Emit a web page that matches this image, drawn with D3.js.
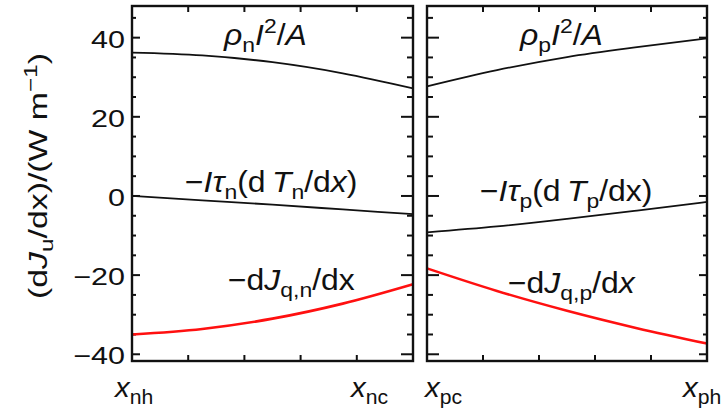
<html>
<head></head>
<body style="margin:0;background:white">
<svg id="svg" width="724" height="412"></svg>
<script src="https://cdn.jsdelivr.net/npm/d3@7"></script>
<script>

// positions along each leg, 0 = left end of the panel, 1 = right end
var xPos = [0, 0.25, 0.5, 0.75, 1];

// n leg (x_nh -> x_nc)
var rhoN = [36.2, 35.5, 33.8, 31.0, 27.2];
var tauN = [0, -1.1, -2.2, -3.4, -4.6];
var jqN  = [-35.0, -33.6, -31.0, -27.2, -22.3];

// p leg (x_pc -> x_ph)
var rhoP = [27.7, 31.8, 35.1, 37.6, 39.8];
var tauP = [-9.2, -7.7, -5.8, -3.7, -1.5];
var jqP  = [-18.3, -24.0, -29.0, -33.4, -37.3];

var yMajor = [-40, -20, 0, 20, 40];
var yMinor = d3.range(-40, 46, 5);
var xTicks = [0.2, 0.4, 0.6, 0.8];

var svg = d3.select("#svg");
var font = "Liberation Sans, Arial, sans-serif";
var ink = "#111";

var yTop = 6, yBot = 361;
var y = d3.scaleLinear().domain([-41.7, 48]).range([yBot, yTop]);

var panels = [
  {x0: 132, x1: 413, series: [rhoN, tauN, jqN], left: "nh", right: "nc"},
  {x0: 427, x1: 707, series: [rhoP, tauP, jqP], left: "pc", right: "ph"}
];

// text helper: parts = [{t, i, sub, sup}], stretched a bit wider like the original figure
function rich(x, yy, size, sx, anchor, parts, rot) {
  var tr = "translate(" + x + "," + yy + ")" + (rot ? " rotate(-90)" : "") + " scale(" + sx + ",1)";
  var t = svg.append("text").attr("transform", tr)
    .attr("font-family", font).attr("font-size", size).attr("fill", ink)
    .attr("text-anchor", anchor);
  var shift = 0;
  parts.forEach(function(pp) {
    var s = t.append("tspan").text(pp.t);
    if (pp.i) s.attr("font-style", "italic");
    var want = pp.sub ? size * 0.24 : pp.sup ? -size * 0.4 : 0;
    if (pp.sub || pp.sup) s.attr("font-size", size * 0.72);
    if (want != shift) s.attr("dy", want - shift);
    shift = want;
  });
  return t;
}

panels.forEach(function(p, i) {
  var x = d3.scaleLinear().domain([0, 1]).range([p.x0, p.x1]);
  var g = svg.append("g");

  // y ticks on both sides, longer ones next to the gap
  [[p.x0, 1], [p.x1, -1]].forEach(function(side) {
    var inner = (i == 0 && side[1] < 0) || (i == 1 && side[1] > 0);
    var lenMaj = inner ? 12 : 8, lenMin = inner ? 6 : 4;
    g.selectAll(null).data(yMinor).join("line")
      .attr("x1", side[0]).attr("x2", d => side[0] + side[1] * (d % 20 == 0 ? lenMaj : lenMin))
      .attr("y1", d => y(d)).attr("y2", d => y(d))
      .attr("stroke", ink).attr("stroke-width", 2);
  });

  // x ticks top and bottom
  [[yTop, 1], [yBot, -1]].forEach(function(side) {
    g.selectAll(null).data(xTicks).join("line")
      .attr("x1", d => x(d)).attr("x2", d => x(d))
      .attr("y1", side[0]).attr("y2", side[0] + side[1] * 6)
      .attr("stroke", ink).attr("stroke-width", 2);
  });

  var line = d3.line().x((d, k) => x(xPos[k])).y(d => y(d)).curve(d3.curveMonotoneX);
  p.series.forEach(function(s, k) {
    g.append("path").datum(s).attr("d", line)
      .attr("fill", "none")
      .attr("stroke", k == 2 ? "#ff1010" : ink)
      .attr("stroke-width", k == 2 ? 2.6 : 1.8);
  });

  g.append("rect").attr("x", p.x0).attr("y", yTop)
    .attr("width", p.x1 - p.x0).attr("height", yBot - yTop)
    .attr("fill", "none").attr("stroke", ink).attr("stroke-width", 2.4);

  // x end labels
  var lx = i == 0 ? [x(0) - 17, x(1) - 62] : [x(0) - 2, x(1) - 24];
  rich(lx[0], 397, 28, 1.05, "start", [{t: "x", i: 1}, {t: p.left, sub: 1}]);
  rich(lx[1], 397, 28, 1.05, "start", [{t: "x", i: 1}, {t: p.right, sub: 1}]);
});

// y tick labels
yMajor.forEach(function(v) {
  rich(125, y(v) + 10, 24, 1.27, "end", [{t: v < 0 ? "\u2212" + Math.abs(v) : String(v)}]);
});

// y axis title
rich(47, 176, 26, 1.3, "middle", [
  {t: "(d"}, {t: "J", i: 1}, {t: "u", sub: 1}, {t: "/dx)/(W m"}, {t: "\u22121", sup: 1}, {t: ")"}
], true);

// curve labels
rich(224, 45, 29, 1.1, "start", [{t: "\u03c1", i: 1}, {t: "n", sub: 1}, {t: "I", i: 1}, {t: "2", sup: 1}, {t: "/"}, {t: "A", i: 1}]);
rich(520, 45, 29, 1.1, "start", [{t: "\u03c1", i: 1}, {t: "p", sub: 1}, {t: "I", i: 1}, {t: "2", sup: 1}, {t: "/"}, {t: "A", i: 1}]);
rich(185, 192, 29, 1.1, "start", [{t: "\u2212"}, {t: "I\u03c4", i: 1}, {t: "n", sub: 1}, {t: "(d\u2009"}, {t: "T", i: 1}, {t: "n", sub: 1}, {t: "/d"}, {t: "x", i: 1}, {t: ")"}]);
rich(480, 201, 29, 1.1, "start", [{t: "\u2212"}, {t: "I\u03c4", i: 1}, {t: "p", sub: 1}, {t: "(d\u2009"}, {t: "T", i: 1}, {t: "p", sub: 1}, {t: "/dx)"}]);
rich(228, 290, 29, 1.1, "start", [{t: "\u2212d"}, {t: "J", i: 1}, {t: "q,n", sub: 1}, {t: "/dx"}]);
rich(508, 293, 29, 1.1, "start", [{t: "\u2212d"}, {t: "J", i: 1}, {t: "q,p", sub: 1}, {t: "/d"}, {t: "x", i: 1}]);

</script>
</body>
</html>
